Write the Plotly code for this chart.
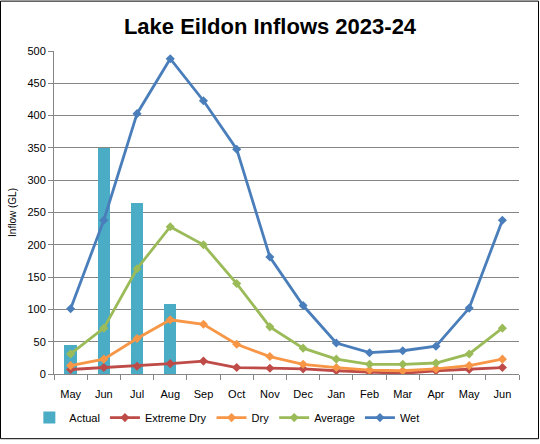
import plotly.graph_objects as go

months = ["May", "Jun", "Jul", "Aug", "Sep", "Oct", "Nov", "Dec",
          "Jan", "Feb", "Mar", "Apr", "May", "Jun"]
xpos = list(range(len(months)))

actual = [45, 350, 264, 109]
extreme_dry = [7, 10, 12, 16, 20, 10, 9, 8, 5, 2.5, 1, 5, 7, 10]
dry = [13, 23, 55, 84, 77, 46, 27, 15, 10, 6, 5, 8, 13, 23]
average = [31, 71, 163, 228, 200, 140, 73, 40, 23, 15, 15, 17, 31, 71]
wet = [101, 238, 403, 488, 423, 348, 181, 106, 48, 33, 36, 43, 102, 238]

font = "Liberation Sans"

fig = go.Figure()

fig.add_trace(go.Bar(
    x=xpos[:len(actual)], y=actual, name="Actual",
    marker=dict(color="#4BACC6", line=dict(width=0)),
    width=0.37,
))

series = [
    ("Extreme Dry", extreme_dry, "#BE4B48"),
    ("Dry", dry, "#F79646"),
    ("Average", average, "#9BBB59"),
    ("Wet", wet, "#4A7EBB"),
]
for name, vals, col in series:
    fig.add_trace(go.Scatter(
        x=xpos, y=vals, name=name, mode="lines+markers",
        line=dict(color=col, width=2.8),
        marker=dict(symbol="diamond", size=7, color=col),
    ))

fig.update_layout(
    width=540, height=444,
    margin=dict(l=54, r=21, t=51, b=66),
    paper_bgcolor="white", plot_bgcolor="white",
    font=dict(family=font, size=11, color="#000000"),
    title=dict(text="<b>Lake Eildon Inflows 2023-24</b>", x=0.5, xanchor="center",
               y=0.94, yanchor="middle", font=dict(size=22, family=font)),
    showlegend=True,
    legend=dict(orientation="h", x=-0.053, xanchor="left", y=-0.135, yanchor="middle",
                font=dict(size=11), itemwidth=30, tracegroupgap=0),
    bargap=0,
    xaxis=dict(
        range=[-0.5, 13.5], tickmode="array", tickvals=xpos, ticktext=months,
        ticks="", showgrid=False, showline=True, linecolor="#868686", linewidth=1,
        tickfont=dict(size=11), zeroline=False, ticklabelstandoff=10,
        minor=dict(tickmode="linear", tick0=-0.5, dtick=1, ticks="outside",
                   ticklen=5, tickcolor="#868686", showgrid=False),
    ),
    yaxis=dict(
        range=[0, 500], dtick=50, showgrid=True, gridcolor="#868686", gridwidth=1,
        showline=True, linecolor="#868686", linewidth=1, ticks="outside",
        ticklen=5, tickcolor="#868686", zeroline=False,
        title=dict(text="Inflow (GL)", font=dict(size=10), standoff=8),
        tickfont=dict(size=11),
    ),
)

# outer border of the chart
fig.add_shape(type="rect", xref="paper", yref="paper",
              x0=-53.5 / 465, x1=538.5 / 465 - 54 / 465,
              y0=(378 - 443.5) / 327, y1=(378 - 0.5) / 327,
              line=dict(color="black", width=1), layer="above")

fig.write_html(
    "out.html",
    config={"displayModeBar": False},
    post_script="document.body.style.margin='0';"
                "document.documentElement.style.overflow='hidden';",
)
